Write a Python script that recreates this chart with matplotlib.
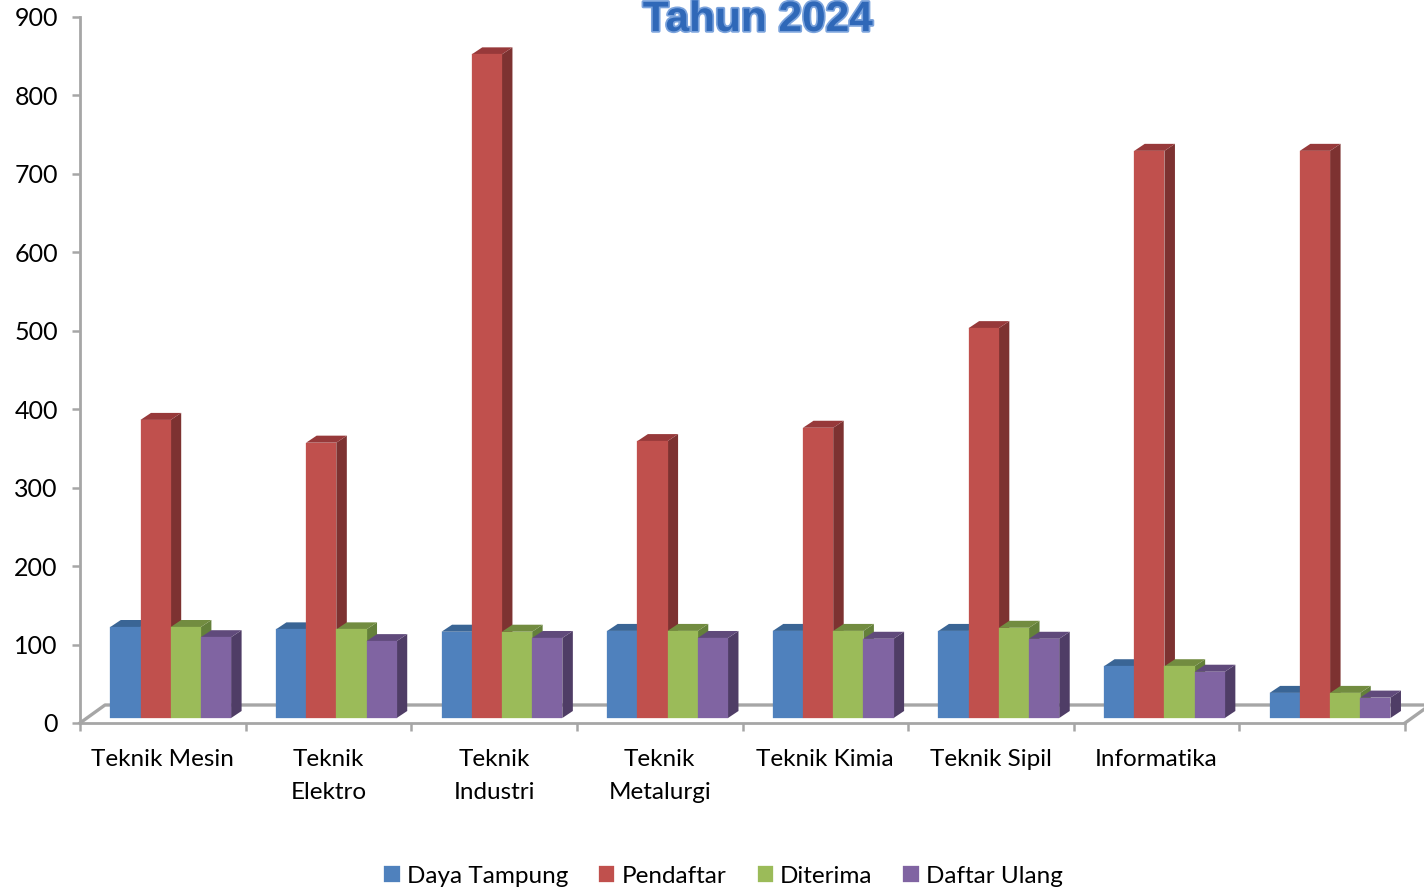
import matplotlib
matplotlib.use("Agg")
import matplotlib.pyplot as plt
import matplotlib.patheffects as pe
from matplotlib.patches import Polygon

categories = ["Teknik Mesin", "Teknik\nElektro", "Teknik\nIndustri", "Teknik\nMetalurgi",
              "Teknik Kimia", "Teknik Sipil", "Informatika", ""]
daya_tampung = [116, 113, 110, 111, 111, 111, 66, 32]
pendaftar = [380, 351, 846, 353, 370, 497, 723, 723]
diterima = [116, 113, 110, 111, 111, 115, 66, 32]
daftar_ulang = [103, 98, 102, 102, 101, 101, 59, 26]
series_names = ["Daya Tampung", "Pendaftar", "Diterima", "Daftar Ulang"]
series_values = [daya_tampung, pendaftar, diterima, daftar_ulang]
front_colors = ["#4f81bd", "#c0504d", "#9bbb59", "#8064a2"]
top_colors = ["#3a6595", "#97393a", "#728c40", "#604a7b"]
side_colors = ["#2f5483", "#7d3231", "#64803a", "#4f3d66"]
y_ticks = list(range(0, 901, 100))

W, H = 1424, 892
plt.rcParams["font.family"] = ["Lato", "DejaVu Sans"]
fig = plt.figure(figsize=(W / 100, H / 100), dpi=100)
ax = fig.add_axes([80 / W, 1 - 723 / H, 1325 / W, 706 / H])
n = len(categories)
ax.set_xlim(0, n)
ax.set_ylim(0, 900)

px_x = n / 1325
px_y = 900 / 706
grey = "#a6a6a6"

for s in ("top", "right"):
    ax.spines[s].set_visible(False)
for s in ("left", "bottom"):
    ax.spines[s].set_color(grey)
    ax.spines[s].set_linewidth(2)

# floor / back wall
wall_y = 18 * px_y
wall_dx = 25 * px_x
ax.plot([0, wall_dx, n + wall_dx], [0, wall_y, wall_y], color=grey, lw=2.4, zorder=1, clip_on=False)
ax.plot([n, n + wall_dx], [0, wall_y], color=grey, lw=2.4, zorder=1, clip_on=False)

# 3D columns
bar_w = 30.2 * px_x
start = 30.3 * px_x
base = 5 * px_y
dx = 10.5 * px_x
dy = 7 * px_y
z = 3
for i in range(n):
    for j, vals in enumerate(series_values):
        v = vals[i]
        left = i + start + j * bar_w
        right = left + bar_w
        ytop = base + v
        ax.add_patch(Polygon([(right, base), (right + dx, base + dy), (right + dx, ytop + dy), (right, ytop)],
                             closed=True, fc=side_colors[j], ec="none", zorder=z))
        ax.add_patch(Polygon([(left, ytop), (left + dx, ytop + dy), (right + dx, ytop + dy), (right, ytop)],
                             closed=True, fc=top_colors[j], ec="none", zorder=z))
        ax.bar(left, v, width=bar_w, bottom=base, align="edge", color=front_colors[j],
               edgecolor=front_colors[j], linewidth=0.2, zorder=z + 0.5,
               label=series_names[j] if i == 0 else None)
        z += 1

ax.set_xticks(range(n + 1))
ax.set_xticklabels([])
ax.set_xticks([i + 0.5 for i in range(n)], minor=True)
ax.set_xticklabels(categories, minor=True, fontsize=17.5, linespacing=1.7)
ax.tick_params(axis="x", which="major", length=6, width=1.8, color=grey)
ax.tick_params(axis="x", which="minor", length=0, pad=19)
ax.set_yticks(y_ticks)
ax.tick_params(axis="y", length=6, width=1.8, color=grey, labelsize=18, pad=10)

leg = ax.legend(loc="lower left", bbox_to_anchor=(382 / W, 3 / H), bbox_transform=fig.transFigure,
                ncol=4, frameon=False, fontsize=17.5, handlelength=0.62, handleheight=0.62,
                handletextpad=0.3, columnspacing=1.28, borderpad=0, borderaxespad=0.1)

fig.text(758 / W, 1 - 31 / H, "Tahun 2024", ha="center", va="baseline",
         family=["Liberation Sans", "DejaVu Sans"], weight="bold", fontsize=30.5, color="#2f68b8",
         path_effects=[pe.withStroke(linewidth=2.5, foreground="#7ba3dc")])

fig.savefig("out.png", dpi=100)
